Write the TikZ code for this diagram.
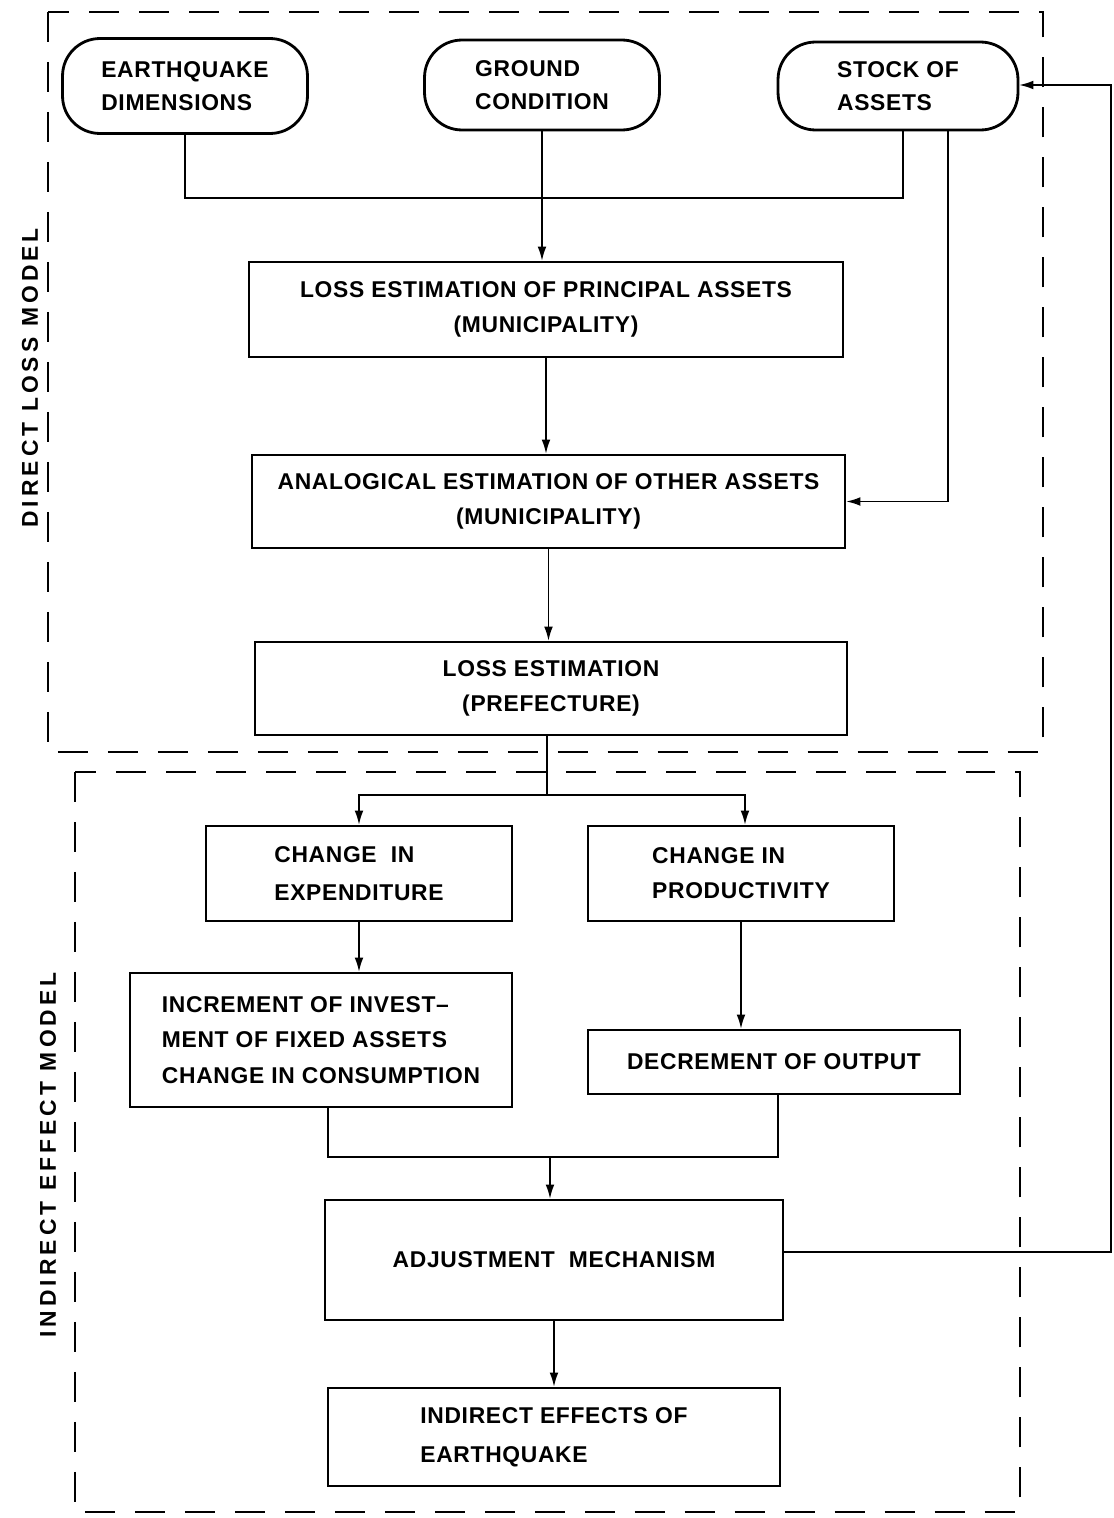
\documentclass[tikz,border=0pt]{standalone}
\usepackage{fontspec}
\setmainfont{Liberation Sans}[LetterSpace=3]
\newfontfamily\sidefont{Liberation Sans}[LetterSpace=18]
\usetikzlibrary{arrows.meta}

\begin{document}
\begin{tikzpicture}[x=0.02cm, y=-0.02cm,
  font=\fontsize{13}{20}\selectfont\bfseries,
  >={Latex[length=8pt,width=5pt]},
  blk/.style={draw, line width=1.6pt, align=center, inner xsep=2pt},
  term/.style={blk, rounded corners=0.75cm},
  region/.style={line width=1pt, dash pattern=on 0.6cm off 0.4cm},
  conn/.style={line width=0.8pt},
  side/.style={rotate=90, font=\sidefont\fontsize{13}{20}\selectfont\bfseries}]
  \useasboundingbox (0,0) rectangle (1114,1518);

  % model regions
  \draw[region] (48,12) rectangle (1043,752);
  \draw[region] (75,772) rectangle (1020,1512);
  \node[side] (dlm) at (30,378) {DIRECT LOSS MODEL};
  \node[side] (iem) at (48,1155) {INDIRECT EFFECT MODEL};

  % inputs
  \node[term, minimum width=4.9cm, minimum height=1.9cm, align=left] (eq) at (185,86) {EARTHQUAKE\\[-1pt]DIMENSIONS};
  \node[term, minimum width=4.7cm, minimum height=1.8cm, align=left] (gc) at (542,85) {GROUND\\[-1pt]CONDITION};
  \node[term, minimum width=4.8cm, minimum height=1.76cm, align=left] (soa) at (898,86) {STOCK OF\\[-1pt]ASSETS};

  % direct loss
  \node[blk, minimum width=11.88cm, minimum height=1.9cm] (le1) at (546,309.5) {LOSS ESTIMATION OF PRINCIPAL ASSETS\\(MUNICIPALITY)};
  \node[blk, minimum width=11.86cm, minimum height=1.86cm] (aes) at (548.5,501.5) {ANALOGICAL ESTIMATION OF OTHER ASSETS\\(MUNICIPALITY)};
  \node[blk, minimum width=11.84cm, minimum height=1.86cm] (le2) at (551,688.5) {LOSS ESTIMATION\\(PREFECTURE)};

  % indirect effect
  \node[blk, minimum width=6.12cm, minimum height=1.9cm, align=left] (cie) at (359,873.5) {CHANGE \ IN\\[2pt]EXPENDITURE};
  \node[blk, minimum width=6.12cm, minimum height=1.9cm, align=left] (cip) at (741,873.5) {CHANGE IN\\PRODUCTIVITY};
  \node[blk, minimum width=7.64cm, minimum height=2.68cm, align=left] (inc) at (321,1040) {INCREMENT OF INVEST--\\MENT OF FIXED ASSETS\\CHANGE IN CONSUMPTION};
  \node[blk, minimum width=7.44cm, minimum height=1.28cm] (dec) at (774,1062) {DECREMENT OF OUTPUT};
  \node[blk, minimum width=9.16cm, minimum height=2.4cm] (adj) at (554,1260) {ADJUSTMENT \ MECHANISM};
  \node[blk, minimum width=9.04cm, minimum height=1.96cm, align=left] (ind) at (554,1437) {INDIRECT EFFECTS OF\\[2pt]EARTHQUAKE};

  % junctions
  \coordinate (j1) at (545,198);
  \coordinate (j2) at (547,795);
  \coordinate (j3) at (550,1157);
  \coordinate (fb) at (1111,85);

  % connectors
  \draw[conn] (eq.south) |- (j1) -| ([xshift=0.1cm]soa.south);
  \draw[conn,->] (gc.south) -- (gc.south |- le1.north);
  \draw[conn,->] (le1.south) -- (le1.south |- aes.north);
  \draw[conn,->] ([xshift=1cm]soa.south) |- (aes.east);
  \draw[conn,->] (aes.south) -- (aes.south |- le2.north);
  \draw[conn] (le2.south -| j2) -- (j2);
  \draw[conn,->] (j2) -| (cie.north);
  \draw[conn,->] (j2) -| ([xshift=0.08cm]cip.north);
  \draw[conn,->] (cie.south) -- (cie.south |- inc.north);
  \draw[conn,->] (cip.south) -- (cip.south |- dec.north);
  \draw[conn] ([xshift=0.14cm]inc.south) |- (j3) -| ([xshift=0.08cm]dec.south);
  \draw[conn,->] (j3) -- (j3 |- adj.north);
  \draw[conn,->] (adj.south) -- (adj.south |- ind.north);

  % feedback to stock
  \draw[conn,->] ([yshift=0.16cm]adj.east) -- ([yshift=0.16cm]adj.east -| fb) -- (fb) -- (fb -| soa.east);
\end{tikzpicture}
\end{document}
